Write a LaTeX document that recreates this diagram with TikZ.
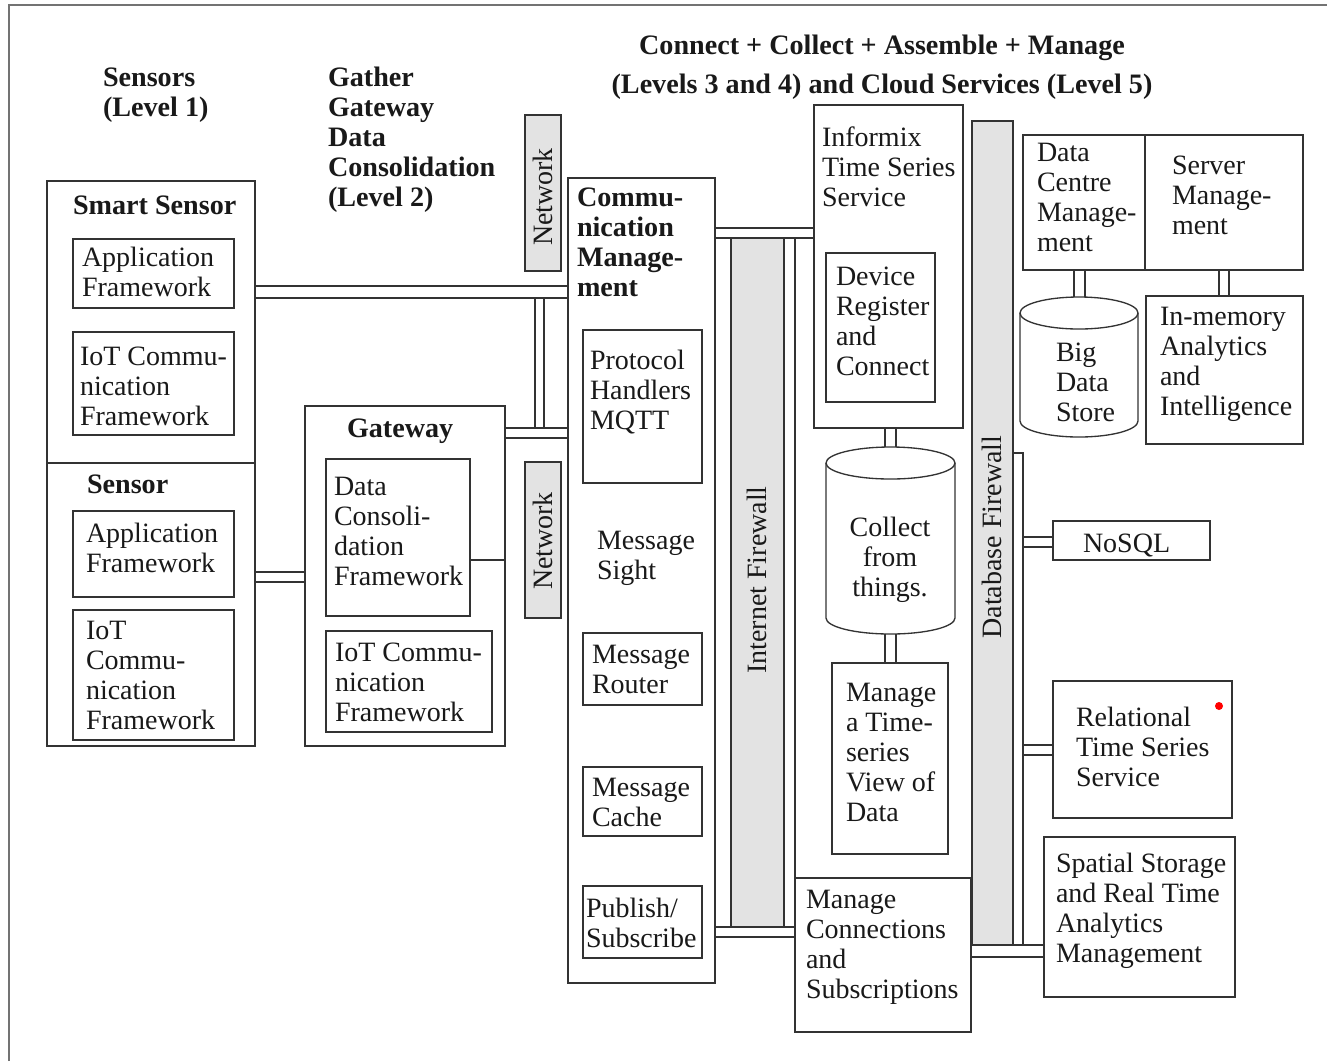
\documentclass[tikz,border=0pt]{standalone}
\usepackage{fontspec}
\setmainfont{Liberation Serif}
\tikzset{
 box/.style={draw=black!80, line width=1pt, fill=white, inner sep=0pt, outer sep=0pt, anchor=north west},
 gbox/.style={box, fill=black!11},
 txt/.style={anchor=north west, inner sep=0pt, outer sep=0pt, align=left, text=black!90, font=\fontsize{21}{22.5}\selectfont},
 btxt/.style={txt, font=\fontsize{21.1}{22.5}\selectfont\bfseries},
 rtxt/.style={txt, anchor=center, rotate=90},
 ln/.style={draw=black!80, line width=1pt},
 frameline/.style={draw=black!55, line width=1.5pt},
}
\newcommand\mkbox[6][box]{\node[#1, minimum width={(#5-#3)*0.75pt}, minimum height={(#6-#4)*0.75pt}] (#2) at (#3,#4) {};}
\newcommand\tx[5][txt]{\node[#1] (#2) at (#3,#4-21) {\strut #5};}
\begin{document}
\begin{tikzpicture}[x=0.75pt,y=-0.75pt]
\useasboundingbox (0,0) rectangle (1327,1061);
% outer frame
\coordinate (fbl) at (9,1061);
\coordinate (ftl) at (9,5);
\coordinate (ftr) at (1327,5);
\draw[frameline] (fbl) -- (ftl) -- (ftr);

% titles
\tx[btxt]{tl1}{103}{86}{Sensors\\(Level 1)}
\tx[btxt]{tl2}{328}{86}{Gather\\Gateway\\Data\\Consolidation\\(Level 2)}
\node[btxt, align=center, anchor=north] (tl3) at (882,54-21) {\strut Connect + Collect + Assemble + Manage\\[6.75pt](Levels 3 and 4) and Cloud Services (Level 5)};

% ---------- boxes: level 1 ----------
\mkbox{ss}{47}{181}{255}{463}
\mkbox{ssapp}{73}{239}{234}{308}
\mkbox{ssiot}{73}{332}{234}{435}
\mkbox{sen}{47}{463}{255}{746}
\mkbox{senapp}{73}{511}{234}{597}
\mkbox{seniot}{73}{610}{234}{740}

% ---------- level 2 ----------
\mkbox{gw}{305}{406}{505}{746}
\mkbox{dcf}{326}{459}{470}{616}
\mkbox{gwiot}{326}{631}{492}{732}
\mkbox[gbox]{net1}{525}{115}{561}{271}
\mkbox[gbox]{net2}{525}{462}{561}{618}

% ---------- communication management ----------
\mkbox{comm}{568}{178}{715}{983}
\mkbox{proto}{583}{330}{702}{483}
\mkbox{router}{583}{633}{702}{705}
\mkbox{cache}{583}{767}{702}{836}
\mkbox{pubsub}{583}{886}{702}{958}

% ---------- firewalls ----------
\mkbox[gbox]{ifw}{731}{238}{784}{927}
\mkbox[gbox]{dbfw}{972}{121}{1013}{945}

% ---------- level 3/4 ----------
\mkbox{inf}{814}{105}{963}{428}
\mkbox{dev}{826}{253}{935}{402}
\mkbox{mts}{832}{663}{948}{854}
\mkbox{mc}{795}{878}{971}{1032}

% ---------- level 5 ----------
\mkbox{dcm}{1023}{135}{1145}{270}
\mkbox{srv}{1145}{135}{1303}{270}
\mkbox{imem}{1146}{296}{1303}{444}
\mkbox{nosql}{1053}{521}{1210}{560}
\mkbox{rel}{1053}{681}{1232}{818}
\mkbox{spat}{1044}{837}{1235}{997}

% cylinders
\coordinate (colT) at (890.5,447);
\coordinate (colB) at (890.5,634);
\draw[ln, fill=white] (826,463) -- (826,618) arc[start angle=180, end angle=0, x radius=64.5, y radius=16] -- (955,463);
\draw[ln, fill=white] (890.5,463) ellipse[x radius=64.5, y radius=16];
\coordinate (bigT) at (1079,297);
\coordinate (bigB) at (1079,437);
\draw[ln, fill=white] (1020,313) -- (1020,421) arc[start angle=180, end angle=0, x radius=59, y radius=16] -- (1138,313);
\draw[ln, fill=white] (1079,313) ellipse[x radius=59, y radius=16];

% ---------- connectors ----------
% smart sensor -> communication management
\draw[ln] (ss.east |- 0,286) -- (comm.west |- 0,286);
\draw[ln] (ss.east |- 0,298) -- (comm.west |- 0,298);
% vertical link down to gateway link
\draw[ln] (535,298) -- (535,428);
\draw[ln] (544,298) -- (544,428);
% gateway -> communication management
\draw[ln] (gw.east |- 0,428) -- (comm.west |- 0,428);
\draw[ln] (gw.east |- 0,438) -- (comm.west |- 0,438);
% sensor -> gateway
\draw[ln] (sen.east |- 0,572) -- (gw.west |- 0,572);
\draw[ln] (sen.east |- 0,582) -- (gw.west |- 0,582);
% data consolidation -> gateway edge
\draw[ln] (dcf.east |- 0,560) -- (gw.east |- 0,560);
% communication management -> informix
\draw[ln] (comm.east |- 0,228) -- (inf.west |- 0,228);
\draw[ln] (comm.east |- 0,238) -- (inf.west |- 0,238);
% vertical line beside internet firewall
\draw[ln] (mc.north west |- ifw.north) -- (mc.north west);
% communication management -> manage connections
\draw[ln] (comm.east |- 0,927) -- (mc.west |- 0,927);
\draw[ln] (comm.east |- 0,937) -- (mc.west |- 0,937);
% informix -> collect -> manage time series
\draw[ln] (885,428) -- (885,447.4);
\draw[ln] (896,428) -- (896,447.4);
\draw[ln] (885,633.6) -- (885,663);
\draw[ln] (896,633.6) -- (896,663);
% data centre -> big data, server -> in-memory
\draw[ln] (1074,270) -- (1074,297.4);
\draw[ln] (1085,270) -- (1085,297.4);
\draw[ln] (1219,270) -- (1219,296);
\draw[ln] (1229,270) -- (1229,296);
% database firewall bus
\draw[ln] (dbfw.east |- 0,453) -- (1023,453) -- (1023,945);
\draw[ln] (1023,537) -- (nosql.west |- 0,537);
\draw[ln] (1023,547) -- (nosql.west |- 0,547);
\draw[ln] (1023,745) -- (rel.west |- 0,745);
\draw[ln] (1023,755) -- (rel.west |- 0,755);
\draw[ln] (dbfw.south west) -- (spat.west |- 0,945);
\draw[ln] (mc.east |- 0,957) -- (spat.west |- 0,957);

% ---------- texts ----------
\tx[btxt]{tss}{73}{214}{Smart Sensor}
\tx{tssapp}{82}{266}{Application\\Framework}
\tx{tssiot}{80}{365}{IoT Commu-\\nication\\Framework}
\tx[btxt]{tsen}{87}{493}{Sensor}
\tx{tsenapp}{86}{542}{Application\\Framework}
\tx{tseniot}{86}{639}{IoT\\Commu-\\nication\\Framework}

\tx[btxt]{tgw}{347}{437}{Gateway}
\tx{tdcf}{334}{495}{Data\\Consoli-\\dation\\Framework}
\tx{tgwiot}{335}{661}{IoT Commu-\\nication\\Framework}
\node[rtxt] (tnet1) at (543,197) {Network};
\node[rtxt] (tnet2) at (543,541) {Network};

\tx[btxt]{tcomm}{577}{206}{Commu-\\nication\\Manage-\\ment}
\tx{tproto}{590}{369}{Protocol\\Handlers\\MQTT}
\tx{tsight}{597}{549}{Message\\Sight}
\tx{trouter}{592}{663}{Message\\Router}
\tx{tcache}{592}{796}{Message\\Cache}
\tx{tpub}{586}{917}{Publish/\\Subscribe}
\node[rtxt] (tifw) at (757,580) {Internet Firewall};

\tx{tinf}{822}{146}{Informix\\Time Series\\Service}
\tx{tdev}{836}{285}{Device\\Register\\and\\Connect}
\node[txt, align=center, anchor=north] (tcol) at (890,536-21) {\strut Collect\\from\\things.};
\tx{tmts}{846}{701}{Manage\\a Time-\\series\\View of\\Data}
\tx{tmc}{806}{908}{Manage\\Connections\\and\\Subscriptions}
\node[rtxt] (tdbfw) at (992,537) {Database Firewall};

\tx{tdcm}{1037}{161}{Data\\Centre\\Manage-\\ment}
\tx{tsrv}{1172}{174}{Server\\Manage-\\ment}
\tx{tbig}{1056}{361}{Big\\Data\\Store}
\tx{timem}{1160}{325}{In-memory\\Analytics\\and\\Intelligence}
\tx{tnosql}{1083}{552}{NoSQL}
\tx{trel}{1076}{726}{Relational\\Time Series\\Service}
\tx{tspat}{1056}{872}{Spatial Storage\\and Real Time\\Analytics\\Management}
\node[circle, fill=red, inner sep=0pt, minimum size=6pt] (reddot) at (1219,706) {};
\end{tikzpicture}
\end{document}
